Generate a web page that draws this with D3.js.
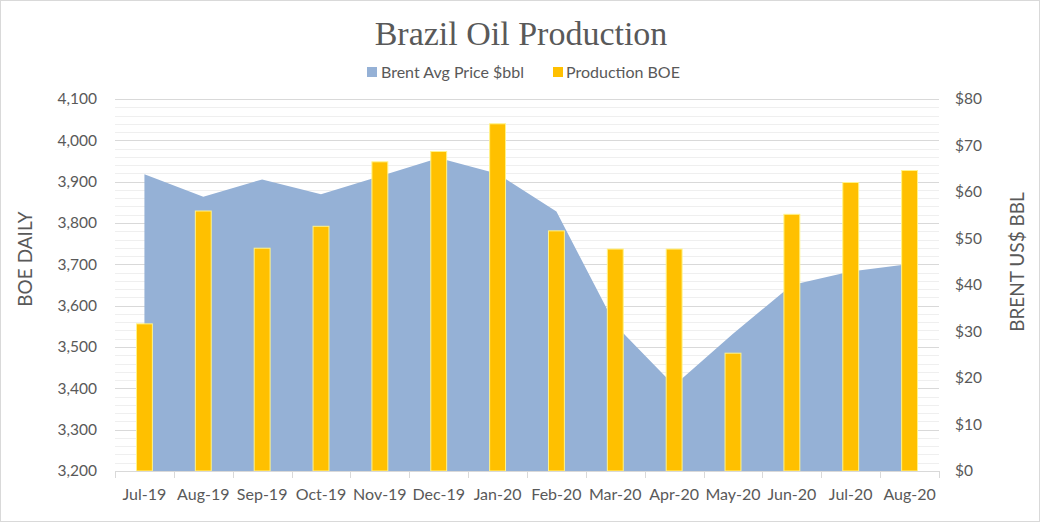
<!DOCTYPE html>
<html><head><meta charset="utf-8">
<script src="https://cdn.jsdelivr.net/npm/d3@7"></script>
<style>body{margin:0;background:#fff}svg{display:block}</style>
</head><body><svg id="c" width="1040" height="522"></svg>
<script>
const categories = ["Jul-19","Aug-19","Sep-19","Oct-19","Nov-19","Dec-19","Jan-20","Feb-20","Mar-20","Apr-20","May-20","Jun-20","Jul-20","Aug-20"];
const production = [3556,3829,3739,3792,3948,3973,4040,3781,3737,3737,3485,3821,3898,3927];
const brent = [63.8,59.0,62.7,59.5,63.4,67.3,63.9,55.8,31.4,18.4,29.5,40.0,42.9,44.5];
const leftTicks = [3200,3300,3400,3500,3600,3700,3800,3900,4000,4100];
const rightTicks = [0,10,20,30,40,50,60,70,80];
const seriesNames = ["Brent Avg Price $bbl","Production BOE"];

const W = 1040, H = 522;
const m = {left:115, right:939, top:99, bottom:471};
const font = "Lato, 'Open Sans', sans-serif";
const txt = "#595959";
const areaColor = "#95B1D6", barColor = "#FFC000", barStroke = "#FFF38A";

const svg = d3.select("#c");
svg.append("rect").attr("x",0.5).attr("y",0.5).attr("width",W-1).attr("height",H-1)
  .attr("fill","#fff").attr("stroke","#d9d9d9");

const x = d3.scaleBand().domain(categories).range([m.left, m.right]).padding(0);
const y = d3.scaleLinear().domain([3200,4100]).range([m.bottom, m.top]);
const y2 = d3.scaleLinear().domain([0,80]).range([m.bottom, m.top]);
const cx = d => x(d) + x.bandwidth()/2;

// minor gridlines
const minor = d3.range(3200, 4101, 20).filter(v => v % 100 !== 0);
svg.append("g").selectAll("line").data(minor).join("line")
  .attr("x1", m.left).attr("x2", m.right)
  .attr("y1", d => Math.round(y(d))+0.5).attr("y2", d => Math.round(y(d))+0.5)
  .attr("stroke", "#efefef").attr("stroke-width",1);
// major gridlines
svg.append("g").selectAll("line").data(leftTicks).join("line")
  .attr("x1", m.left).attr("x2", m.right)
  .attr("y1", d => Math.round(y(d))+0.5).attr("y2", d => Math.round(y(d))+0.5)
  .attr("stroke", "#d9d9d9").attr("stroke-width",1);

// area
const area = d3.area().x((d,i) => cx(categories[i])).y0(y2(0)).y1(d => y2(d));
svg.append("path").datum(brent).attr("d", area).attr("fill", areaColor);

// bars
const bw = x.bandwidth()*0.27;
svg.append("g").selectAll("rect").data(production).join("rect")
  .attr("x", (d,i) => cx(categories[i]) - bw/2)
  .attr("y", d => y(d))
  .attr("width", bw)
  .attr("height", d => y(3200) - y(d))
  .attr("fill", barColor).attr("stroke", barStroke).attr("stroke-width", 1);

// x axis line and ticks
svg.append("line").attr("x1", m.left).attr("x2", m.right)
  .attr("y1", m.bottom+0.5).attr("y2", m.bottom+0.5).attr("stroke","#d9d9d9");
const bounds = categories.map(c => x(c)).concat([m.right]);
svg.append("g").selectAll("line").data(bounds).join("line")
  .attr("x1", d => Math.round(d)+0.5).attr("x2", d => Math.round(d)+0.5)
  .attr("y1", m.bottom).attr("y2", m.bottom+7).attr("stroke","#d9d9d9");

// axes labels
const gx = svg.append("g").attr("transform", `translate(0,${m.bottom})`)
  .call(d3.axisBottom(x).tickSize(0).tickPadding(18));
gx.select(".domain").remove();
gx.selectAll("text").attr("font-family", font).attr("font-size", 16).attr("fill", txt);

const gy = svg.append("g").attr("transform", `translate(${m.left},0)`)
  .call(d3.axisLeft(y).tickValues(leftTicks).tickFormat(d3.format(",")).tickSize(0).tickPadding(18));
gy.select(".domain").remove();
gy.selectAll("text").attr("font-family", font).attr("font-size", 15.5).attr("fill", txt);

const gy2 = svg.append("g").attr("transform", `translate(${m.right},0)`)
  .call(d3.axisRight(y2).tickValues(rightTicks).tickFormat(d => "$" + d).tickSize(0).tickPadding(16));
gy2.select(".domain").remove();
gy2.selectAll("text").attr("font-family", font).attr("font-size", 15.5).attr("fill", txt);

// axis titles
svg.append("text").attr("transform", "translate(32,259) rotate(-90)")
  .attr("text-anchor","middle").attr("font-family", font).attr("font-size", 19).attr("fill", txt)
  .text("BOE DAILY");
svg.append("text").attr("transform", "translate(1024,262) rotate(-90)")
  .attr("text-anchor","middle").attr("font-family", font).attr("font-size", 19).attr("fill", txt)
  .text("BRENT US$ BBL");

// title
svg.append("text").attr("x", 521).attr("y", 45).attr("text-anchor","middle")
  .attr("font-family","'Liberation Serif', 'DejaVu Serif', serif").attr("font-size", 34).attr("fill", txt)
  .text("Brazil Oil Production");

// legend
const legend = [
  {name: seriesNames[0], color: areaColor, sx: 367, tx: 381},
  {name: seriesNames[1], color: barColor, sx: 553, tx: 566}
];
const lg = svg.append("g");
legend.forEach(l => {
  lg.append("rect").attr("x", l.sx).attr("y", 67).attr("width", 10).attr("height", 10).attr("fill", l.color);
  lg.append("text").attr("x", l.tx).attr("y", 72).attr("dy","0.35em")
    .attr("font-family", font).attr("font-size", 16).attr("fill", txt).text(l.name);
});
</script>
</body></html>
